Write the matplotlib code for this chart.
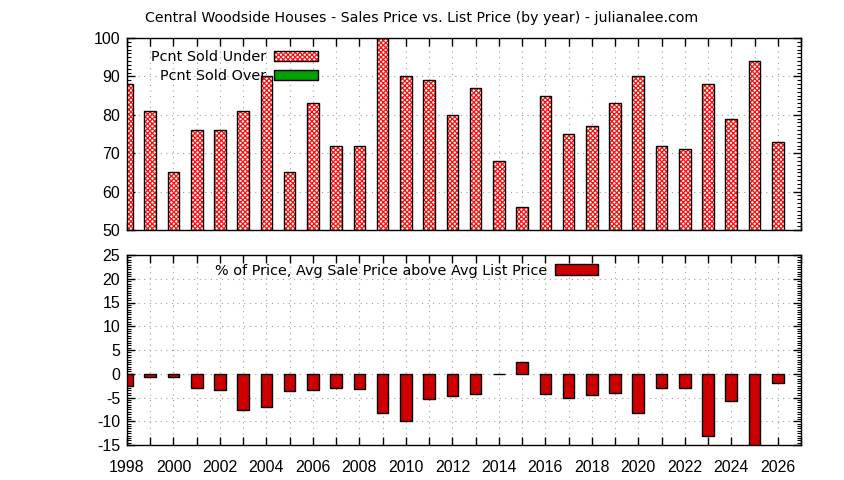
import matplotlib
matplotlib.use("Agg")
import matplotlib.pyplot as plt
from matplotlib.patches import Patch
from matplotlib.legend_handler import HandlerTuple
from matplotlib.ticker import MultipleLocator, FuncFormatter

years = list(range(1998, 2027))
pcnt_under = [88, 81, 65, 76, 76, 81, 90, 65, 83, 72, 72, 100, 90, 89, 80,
              87, 68, 56, 85, 75, 77, 83, 90, 72, 71, 88, 79, 94, 73]
pct_above = [-2.5, -0.6, -0.6, -3.1, -3.5, -7.7, -7.1, -3.7, -3.5, -2.9, -3.3,
             -8.3, -10.0, -5.4, -4.6, -4.2, 0.0, 2.5, -4.2, -5.2, -4.4, -4.0,
             -8.3, -3.1, -3.1, -13.1, -5.8, -16.0, -1.9]

title = "Central Woodside Houses - Sales Price vs. List Price (by year) - julianalee.com"
label_under = "Pcnt Sold Under"
label_over = "Pcnt Sold Over"
label_above = "% of Price, Avg Sale Price above Avg List Price"

plt.rcParams['font.family'] = ['DejaVu Sans']
plt.rcParams['font.size'] = 10
plt.rcParams['hatch.linewidth'] = 0.9
plt.rcParams['axes.unicode_minus'] = False

W, H = 844, 480
fig = plt.figure(figsize=(W / 100, H / 100), dpi=100)

def px_axes(l, t, r, b):
    return [l / W, 1 - b / H, (r - l) / W, (b - t) / H]

ax1 = fig.add_axes(px_axes(127, 38, 801, 230))
ax2 = fig.add_axes(px_axes(127, 255, 801, 445))

RED = '#cc0000'
HATCH_RED = '#ff1010'
GREEN = '#00a000'
HATCH = 'xxxxxxx'
bw = 0.5

# top panel
ax1.bar(years, pcnt_under, width=bw, color='white', edgecolor=HATCH_RED,
        hatch=HATCH, linewidth=0, zorder=2)
ax1.bar(years, pcnt_under, width=bw, fill=False, edgecolor='black',
        linewidth=1.0, zorder=3)
ax1.set_ylim(50, 100)
ax1.set_xlim(1998, 2027)
ax1.yaxis.set_major_locator(MultipleLocator(10))
ax1.yaxis.set_minor_locator(MultipleLocator(1))
ax1.xaxis.set_major_locator(MultipleLocator(1))
ax1.tick_params(axis='x', labelbottom=False)

# bottom panel
ax2.bar(years, pct_above, width=bw, color=RED, edgecolor='black',
        linewidth=1.0, zorder=3)
ax2.set_ylim(-15, 25)
ax2.set_xlim(1998, 2027)
ax2.yaxis.set_major_locator(MultipleLocator(5))
ax2.yaxis.set_minor_locator(MultipleLocator(0.5))
ax2.xaxis.set_major_locator(MultipleLocator(1))
ax2.xaxis.set_major_formatter(FuncFormatter(
    lambda v, p: f"{int(round(v))}" if int(round(v)) % 2 == 0 else ""))

for ax in (ax1, ax2):
    for s in ax.spines.values():
        s.set_linewidth(1.0)
        s.set_zorder(5)
    ax.grid(True, which='major', color='#a0a0a0', linestyle=(0, (1, 4)),
            linewidth=0.8, zorder=1)
    ax.set_axisbelow(True)
    ax.tick_params(which='major', direction='in', length=6, width=1,
                   top=True, right=True, labelsize=11.5)
    ax.tick_params(axis='y', which='major', pad=5)
    ax.tick_params(axis='x', which='major', pad=11)
    ax.tick_params(which='minor', direction='in', length=3, width=0.8,
                   left=True, right=True, top=False, bottom=False)
    for lab in ax.get_xticklabels() + ax.get_yticklabels():
        lab.set_fontfamily(['Liberation Sans'])

fig.text(422 / W, 1 - 18 / H, title, ha='center', va='center', fontsize=10.2)

# legends
h_under = (Patch(facecolor='white', edgecolor=HATCH_RED, hatch=HATCH, linewidth=0),
           Patch(fill=False, edgecolor='black', linewidth=1.0))
h_over = Patch(facecolor=GREEN, edgecolor='black', linewidth=1.0)
ax1.legend([h_under, h_over], [label_under, label_over],
           handler_map={tuple: HandlerTuple(ndivide=1, pad=0)},
           loc='upper left', bbox_to_anchor=(0.036, 0.935), frameon=False,
           markerfirst=False, handlelength=3.0, handleheight=0.7,
           handletextpad=0.55, labelspacing=0.32, borderpad=0, borderaxespad=0,
           fontsize=10.4)

h_above = Patch(facecolor=RED, edgecolor='black', linewidth=1.0)
ax2.legend([h_above], [label_above], loc='upper left',
           bbox_to_anchor=(0.13, 0.955), frameon=False, markerfirst=False,
           handlelength=3.0, handleheight=0.7, handletextpad=0.55,
           borderpad=0, borderaxespad=0, fontsize=10.4)

fig.savefig('out.png', dpi=100)
